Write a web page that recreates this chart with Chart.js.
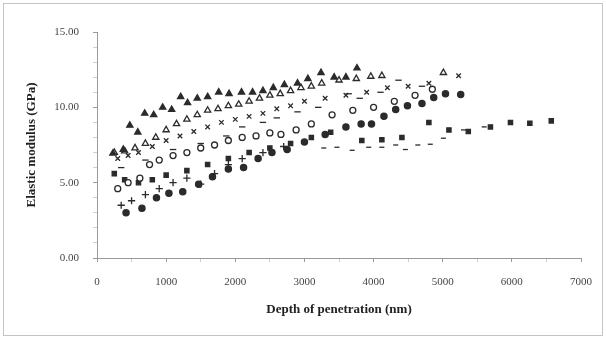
<!DOCTYPE html>
<html>
<head>
<meta charset="utf-8">
<script src="https://cdn.jsdelivr.net/npm/chart.js@4.4.1/dist/chart.umd.min.js"></script>
<style>
  html, body { margin: 0; padding: 0; background: #fff; }
  #wrap { width: 606px; height: 339px; }
</style>
</head>
<body>
<div id="wrap"><canvas id="modChart" width="606" height="339"></canvas></div>
<script>
// depth of penetration (nm) / elastic modulus (GPa)
var triFilledX = [230, 380, 475, 590, 690, 820, 950, 1080, 1210, 1310, 1450, 1600, 1760, 1910, 2090, 2250, 2400, 2550, 2710, 2900, 3050, 3240, 3430, 3600, 3760];
var triFilledY = [6.95, 7.2, 8.8, 8.35, 9.6, 9.5, 10.0, 9.85, 10.7, 10.3, 10.6, 10.7, 11.0, 10.9, 11.0, 11.0, 11.1, 11.3, 11.5, 11.6, 11.9, 12.3, 12.0, 12.0, 12.6];

var triOpenX = [250, 400, 550, 700, 850, 1000, 1150, 1300, 1450, 1600, 1750, 1900, 2050, 2200, 2350, 2500, 2650, 2800, 2950, 3100, 3250, 3500, 3750, 3960, 4120, 5010];
var triOpenY = [7.0, 7.1, 7.3, 7.6, 8.0, 8.5, 8.9, 9.2, 9.5, 9.8, 9.9, 10.1, 10.2, 10.4, 10.6, 10.8, 10.9, 11.1, 11.3, 11.4, 11.6, 11.8, 11.9, 12.05, 12.1, 12.3];

var crossX = [300, 450, 600, 800, 1000, 1200, 1400, 1600, 1800, 2000, 2200, 2400, 2600, 2800, 3000, 3300, 3600, 3900, 4200, 4500, 4800, 5230];
var crossY = [6.6, 6.8, 7.0, 7.4, 7.8, 8.1, 8.4, 8.7, 9.0, 9.2, 9.4, 9.6, 9.9, 10.1, 10.4, 10.6, 10.8, 11.0, 11.3, 11.4, 11.6, 12.1];

var dashX = [350, 700, 1100, 1500, 1870, 2100, 2400, 2600, 2900, 3200, 3640, 3800, 4100, 4360, 4700];
var dashY = [6.0, 6.5, 7.2, 7.6, 8.1, 8.7, 9.0, 9.3, 9.7, 10.0, 10.9, 10.6, 11.0, 11.8, 11.4];

var circOpenX = [300, 450, 620, 760, 900, 1100, 1300, 1500, 1700, 1900, 2100, 2300, 2500, 2660, 2880, 3100, 3400, 3700, 4000, 4300, 4600, 4850];
var circOpenY = [4.6, 5.0, 5.3, 6.2, 6.5, 6.8, 7.0, 7.3, 7.5, 7.8, 8.0, 8.1, 8.3, 8.2, 8.5, 8.9, 9.5, 9.8, 10.0, 10.4, 10.8, 11.2];

var circFilledX = [420, 650, 860, 1040, 1240, 1470, 1670, 1900, 2120, 2330, 2530, 2750, 3000, 3300, 3600, 3820, 3970, 4150, 4320, 4490, 4700, 4870, 5040, 5260];
var circFilledY = [3.0, 3.3, 4.0, 4.3, 4.4, 4.9, 5.4, 5.9, 6.0, 6.6, 7.0, 7.2, 7.7, 8.2, 8.7, 8.9, 8.9, 9.4, 9.85, 10.1, 10.25, 10.65, 10.9, 10.85];

var plusX = [350, 500, 700, 900, 1100, 1300, 1500, 1700, 1900, 2100, 2400, 2700];
var plusY = [3.5, 3.8, 4.2, 4.6, 5.0, 5.3, 4.9, 5.6, 6.2, 6.6, 7.0, 7.4];

var sqX = [250, 400, 600, 800, 1000, 1300, 1600, 1900, 2200, 2500, 2800, 3100, 3380, 3830, 4120, 4410, 4800, 5090, 5370, 5690, 5980, 6260, 6570];
var sqY = [5.6, 5.2, 5.0, 5.2, 5.5, 5.8, 6.2, 6.6, 7.0, 7.3, 7.6, 8.0, 8.35, 7.8, 7.85, 8.0, 9.0, 8.5, 8.4, 8.7, 9.0, 8.95, 9.1];

var smallDashX = [3280, 3470, 3690, 3930, 4120, 4320, 4460, 4640, 4820, 5010, 5300, 5600];
var smallDashY = [7.3, 7.35, 7.15, 7.35, 7.35, 7.5, 7.2, 7.5, 7.55, 7.95, 8.5, 8.7];

function pts(xs, ys) {
  var out = [];
  for (var i = 0; i < xs.length; i++) out.push({x: xs[i], y: ys[i]});
  return out;
}

var ink = '#2b2b2b';
function ds(xs, ys, style, filled, r) {
  return {
    data: pts(xs, ys),
    pointStyle: style,
    pointRadius: r || 3.2,
    pointBorderWidth: 1.3,
    pointBorderColor: ink,
    pointBackgroundColor: filled ? ink : '#fff',
    showLine: false
  };
}

// grey frame round the whole picture
var framePlugin = {
  id: 'frame',
  beforeDraw: function (chart) {
    var c = chart.ctx;
    c.save();
    c.fillStyle = '#fff';
    c.fillRect(0, 0, chart.width, chart.height);
    c.strokeStyle = '#c4c4c4';
    c.lineWidth = 1;
    c.strokeRect(3.5, 3.5, chart.width - 7, chart.height - 7);
    c.restore();
  }
};

var serif = 'Liberation Serif';
var padL = 24, padB = 22;
var ctx = document.getElementById('modChart').getContext('2d');
var myChart = new Chart(ctx, {
  type: 'scatter',
  data: {
    datasets: [
      ds(triFilledX, triFilledY, 'triangle', true, 3.6),
      ds(triOpenX, triOpenY, 'triangle', false, 3.6),
      ds(crossX, crossY, 'crossRot', false, 3.2),
      ds(dashX, dashY, 'line', false, 3.2),
      ds(circOpenX, circOpenY, 'circle', false, 3.0),
      ds(circFilledX, circFilledY, 'circle', true, 3.1),
      ds(plusX, plusY, 'cross', false, 3.6),
      ds(sqX, sqY, 'rect', true, 3.0),
      ds(smallDashX, smallDashY, 'line', false, 2.5)
    ]
  },
  options: {
    responsive: false,
    animation: false,
    layout: { padding: { left: padL, right: 23, top: 32, bottom: padB } },
    plugins: {
      legend: { display: false },
      tooltip: { enabled: false }
    },
    scales: {
      x: {
        type: 'linear',
        min: 0, max: 7000,
        afterFit: function (s) { s.height = 339 - 258 - padB; },
        border: { color: '#9a9a9a', width: 1 },
        grid: {
          drawOnChartArea: false,
          tickLength: 4,
          tickColor: function (c) { return c.tick && c.tick.value % 1000 === 0 ? '#9a9a9a' : '#cfcfcf'; }
        },
        ticks: {
          stepSize: 500,
          autoSkip: false,
          maxRotation: 0,
          padding: 14,
          color: '#444',
          font: { family: serif, size: 11 },
          callback: function (v) { return v % 1000 === 0 ? String(v) : ''; }
        },
        title: {
          display: true,
          text: 'Depth of penetration (nm)',
          color: '#222',
          padding: { top: 0, bottom: 0 },
          font: { family: serif, size: 13, weight: 'bold' }
        }
      },
      y: {
        type: 'linear',
        min: 0, max: 15,
        afterFit: function (s) { s.width = 97 - padL; },
        border: { color: '#9a9a9a', width: 1 },
        grid: {
          drawOnChartArea: false,
          tickLength: 4,
          tickColor: function (c) { return c.tick && c.tick.value % 5 === 0 ? '#9a9a9a' : '#cfcfcf'; }
        },
        ticks: {
          stepSize: 1,
          autoSkip: false,
          padding: 14,
          color: '#444',
          font: { family: serif, size: 11 },
          callback: function (v) { return v % 5 === 0 ? v.toFixed(2) : ''; }
        },
        title: {
          display: true,
          text: 'Elastic modulus (GPa)',
          color: '#222',
          padding: { top: 0, bottom: 0 },
          font: { family: serif, size: 13, weight: 'bold' }
        }
      }
    }
  },
  plugins: [framePlugin]
});
</script>
</body>
</html>
